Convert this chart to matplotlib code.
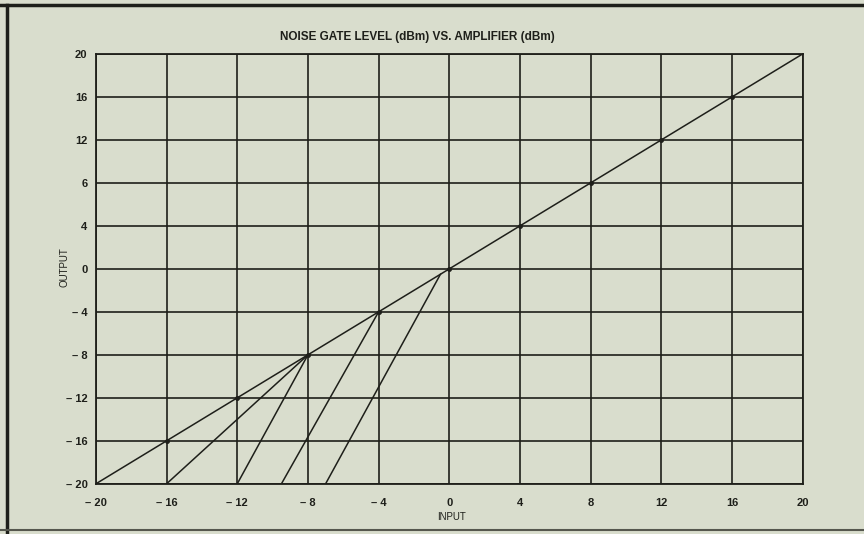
import matplotlib
matplotlib.use("Agg")
import matplotlib.pyplot as plt
from matplotlib.lines import Line2D

# ---------------- data ---------------- #
x_ticks = [-20, -16, -12, -8, -4, 0, 4, 8, 12, 16, 20]
x_labels = ["\u2013 20", "\u2013 16", "\u2013 12", "\u2013 8", "\u2013 4", "0", "4", "8", "12", "16", "20"]
y_ticks = [-20, -16, -12, -8, -4, 0, 4, 8, 12, 16, 20]
y_labels = ["\u2013 20", "\u2013 16", "\u2013 12", "\u2013 8", "\u2013 4", "0", "4", "6", "12", "16", "20"]

# unity gain line (input = output)
unity_in = [-20, 20]
unity_out = [-20, 20]

# gate slopes: (start input, start output, end input, end output)
gate_in_start = [-16, -12, -9.5, -7]
gate_out_start = [-20, -20, -20, -20]
gate_in_end = [-8, -8, -4, -0.5]
gate_out_end = [-8, -8, -4, -0.5]

# dots on the unity line at grid crossings
dot_pts = [-16, -12, -8, -4, 0, 4, 8, 12, 16]

bg = "#d9ddcd"
ink = "#1e1f1a"
font = ["Liberation Sans Narrow", "Liberation Sans", "DejaVu Sans"]

fig = plt.figure(figsize=(8.64, 5.34), dpi=100, facecolor=bg)
ax = fig.add_axes([0.111, 0.094, 0.818, 0.805], facecolor=bg)

ax.set_xlim(-20, 20)
ax.set_ylim(-20, 20)
ax.set_xticks(x_ticks)
ax.set_yticks(y_ticks)
ax.set_xticklabels(x_labels, fontfamily=font, fontsize=8, fontweight="bold", color=ink)
ax.set_yticklabels(y_labels, fontfamily=font, fontsize=8, fontweight="bold", color=ink)
ax.tick_params(length=0, pad=10)
ax.tick_params(axis="y", pad=6)
ax.grid(True, color=ink, linewidth=1.2)
for s in ax.spines.values():
    s.set_color(ink)
    s.set_linewidth(1.3)

ax.plot(unity_in, unity_out, color=ink, linewidth=1.1)
for xs, ys, xe, ye in zip(gate_in_start, gate_out_start, gate_in_end, gate_out_end):
    ax.plot([xs, xe], [ys, ye], color=ink, linewidth=1.1)
ax.plot(dot_pts, dot_pts, "o", color=ink, markersize=2.5)

fig.text(0.483, 0.931, "NOISE GATE LEVEL (dBm) VS. AMPLIFIER (dBm)",
         ha="center", va="center", fontfamily=font, fontsize=8.5, fontweight="bold", color=ink)
fig.text(0.075, 0.5, "OUTPUT", rotation=90, ha="center", va="center",
         fontfamily=font, fontsize=7, color=ink)
fig.text(0.523, 0.032, "INPUT", ha="center", va="center",
         fontfamily=font, fontsize=7, color=ink)

# dark border of the printed panel
fig.add_artist(Line2D([0.0, 1.0], [0.99, 0.99], transform=fig.transFigure, color=ink, linewidth=2.5))
fig.add_artist(Line2D([0.008, 0.008], [0.0, 0.99], transform=fig.transFigure, color=ink, linewidth=2.5))
fig.add_artist(Line2D([0.0, 1.0], [0.007, 0.007], transform=fig.transFigure, color="#55574e", linewidth=1.5))

fig.savefig("out.png", dpi=100, facecolor=bg)
